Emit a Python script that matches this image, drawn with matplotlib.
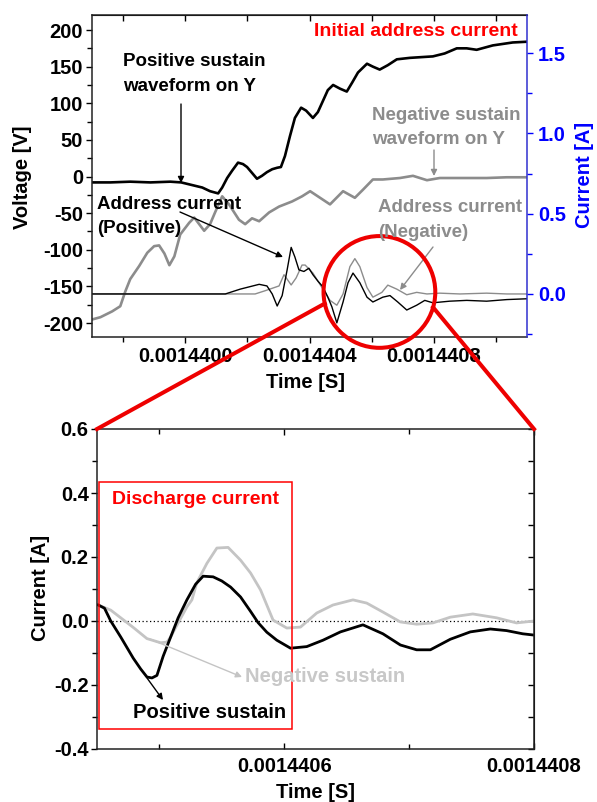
import matplotlib
matplotlib.use('Agg')
import matplotlib.pyplot as plt
from matplotlib.patches import Ellipse, Rectangle, FancyArrowPatch
from matplotlib.lines import Line2D
from matplotlib.ticker import MultipleLocator, FixedLocator, FuncFormatter
import math

plt.rcParams['font.family'] = ['Liberation Sans', 'DejaVu Sans']
plt.rcParams['font.weight'] = 'bold'
plt.rcParams['axes.unicode_minus'] = False

# ---------------- data (time in ns) ----------------
# Top panel: sustain voltages [V]
t_vpos = [1439701, 1439759, 1439823, 1439888, 1439952, 1439987, 1440055, 1440080, 1440106, 1440119,
          1440135, 1440151, 1440170, 1440186, 1440199, 1440215, 1440231, 1440247, 1440263, 1440280,
          1440296, 1440308, 1440321, 1440337, 1440353, 1440373, 1440389, 1440411, 1440427, 1440443,
          1440459, 1440476, 1440498, 1440520, 1440537, 1440556, 1440585, 1440604, 1440626, 1440652,
          1440681, 1440723, 1440797, 1440835, 1440874, 1440906, 1440938, 1440990, 1441054, 1441099]
v_pos = [-8, -8, -7, -8, -7, -8, -15, -20, -23, -15,
         -2, 8, 19, 17, 13, 5, -3, 1, 6, 10,
         12, 13, 28, 55, 80, 94, 90, 80, 88, 103,
         118, 125, 120, 116, 128, 142, 154, 150, 146, 152,
         160, 162, 164, 168, 175, 175, 173, 179, 183, 184]

t_vneg = [1439701, 1439727, 1439765, 1439791, 1439807, 1439823, 1439852, 1439878, 1439900, 1439916,
          1439933, 1439949, 1439965, 1439984, 1440013, 1440029, 1440045, 1440061, 1440080, 1440096,
          1440119, 1440141, 1440173, 1440193, 1440215, 1440238, 1440270, 1440302, 1440344, 1440376,
          1440402, 1440434, 1440466, 1440508, 1440546, 1440572, 1440604, 1440636, 1440691, 1440733,
          1440778, 1440819, 1440884, 1440970, 1441035, 1441099]
v_neg = [-195, -192, -184, -177, -157, -140, -122, -104, -95, -94,
         -105, -121, -109, -79, -63, -56, -65, -74, -65, -49,
         -27, -38, -59, -65, -57, -61, -49, -41, -34, -27,
         -20, -29, -38, -20, -29, -18, -4, -4, -2, 1,
         -5, -2, -2, -2, -1, -1]

# Top panel: address currents [A]
t_ipos = [1439701, 1439888, 1440048, 1440129, 1440177, 1440238, 1440263, 1440280, 1440296, 1440312,
          1440328, 1440341, 1440353, 1440366, 1440382, 1440398, 1440411, 1440427, 1440443, 1440459,
          1440472, 1440488, 1440508, 1440524, 1440540, 1440562, 1440585, 1440604, 1440636, 1440659,
          1440684, 1440713, 1440745, 1440771, 1440797, 1440851, 1440906, 1440970, 1441035, 1441099]
i_pos = [0, 0, 0, 0, 0.03, 0.06, 0.05, 0.0, -0.075, -0.01,
         0.15, 0.29, 0.23, 0.15, 0.14, 0.16, 0.12, 0.08, 0.045, -0.02,
         -0.08, -0.18, -0.05, 0.07, 0.13, 0.07, -0.02, -0.05, -0.02, -0.01,
         -0.05, -0.10, -0.07, -0.04, -0.055, -0.045, -0.04, -0.045, -0.035, -0.03]

t_ineg = [1439701, 1440225, 1440257, 1440302, 1440318, 1440341, 1440357, 1440376, 1440386, 1440411,
          1440440, 1440466, 1440488, 1440508, 1440530, 1440546, 1440562, 1440585, 1440604, 1440633,
          1440652, 1440681, 1440713, 1440745, 1440778, 1440819, 1440884, 1440970, 1441035, 1441099]
i_neg = [0, 0, 0.02, 0.05, 0.12, 0.056, 0.1, 0.18, 0.18, 0.13,
         0.04, -0.04, -0.07, 0.0, 0.17, 0.22, 0.17, 0.04, -0.02, 0.01,
         0.055, 0.03, -0.005, 0.01, 0.0, 0.005, 0.0, 0.005, 0.0, 0.0]

# Bottom panel: discharge currents [A]
t_dpos = [1440451, 1440456, 1440461, 1440469, 1440479, 1440485, 1440490, 1440494, 1440498, 1440503,
          1440510, 1440515, 1440522, 1440529, 1440535, 1440543, 1440550, 1440557, 1440565, 1440573,
          1440579, 1440586, 1440594, 1440605, 1440618, 1440631, 1440645, 1440663, 1440679, 1440693,
          1440706, 1440717, 1440733, 1440749, 1440765, 1440778, 1440791, 1440800]
d_pos = [0.05, 0.04, 0.0, -0.05, -0.116, -0.15, -0.175, -0.178, -0.17, -0.11,
         -0.04, 0.01, 0.066, 0.115, 0.14, 0.138, 0.125, 0.106, 0.075, 0.03,
         -0.005, -0.035, -0.06, -0.085, -0.08, -0.06, -0.034, -0.012, -0.04, -0.075,
         -0.09, -0.09, -0.057, -0.034, -0.025, -0.03, -0.04, -0.044]

t_dneg = [1440451, 1440461, 1440469, 1440479, 1440490, 1440501, 1440506, 1440509, 1440515, 1440522,
          1440526, 1440530, 1440538, 1440546, 1440555, 1440565, 1440573, 1440581, 1440591, 1440602,
          1440613, 1440626, 1440639, 1440655, 1440666, 1440679, 1440693, 1440706, 1440719, 1440733,
          1440751, 1440770, 1440786, 1440800]
d_neg = [0.05, 0.034, 0.01, -0.02, -0.055, -0.068, -0.066, -0.05, -0.006, 0.044,
         0.066, 0.12, 0.18, 0.228, 0.23, 0.19, 0.15, 0.097, 0.003, -0.022,
         -0.019, 0.025, 0.05, 0.066, 0.056, 0.028, -0.003, -0.01, -0.006, 0.012,
         0.022, 0.01, -0.006, 0.0]

top_xticks = [1.4400e-3, 1.4404e-3, 1.4408e-3]
top_xminor = [1.4398e-3, 1.4402e-3, 1.4406e-3, 1.4410e-3]
bot_xticks = [1.4406e-3, 1.4408e-3]
bot_xminor = [1.4405e-3, 1.4407e-3]

NS = 1e-9
def sec(lst):
    return [v * NS for v in lst]

BLACK = '#000000'
GRAY = '#8c8c8c'
LIGHT = '#c4c4c4'
BLUE = '#0000ff'
RED = '#ff0000'

W, H = 597, 802
fig = plt.figure(figsize=(W / 100, H / 100), dpi=100)

def fx(px):
    return px / W

def fy(py):
    return 1 - py / H

def T(px, py, s, **kw):
    fig.text(fx(px), fy(py), s, **kw)

def arrow(x0, y0, x1, y1, color, lw=1.0):
    fig.add_artist(FancyArrowPatch((fx(x0), fy(y0)), (fx(x1), fy(y1)),
                                   transform=fig.transFigure, arrowstyle='-|>',
                                   mutation_scale=9, color=color, lw=lw,
                                   shrinkA=0, shrinkB=0))

xfmt = FuncFormatter(lambda v, p: f'{v:.7f}')
TS = 14.5
LS = 1.55

# ---------------- top panel ----------------
ax = fig.add_axes([fx(92), fy(337), fx(527) - fx(92), fy(15) - fy(337)])
ax2 = ax.twinx()

ax.plot(sec(t_vpos), v_pos, color=BLACK, lw=1.9)
ax.plot(sec(t_vneg), v_neg, color=GRAY, lw=1.9)
ax2.plot(sec(t_ineg), i_neg, color=GRAY, lw=1.0)
ax2.plot(sec(t_ipos), i_pos, color=BLACK, lw=1.0)

ax.set_xlim(1439700 * NS, 1441100 * NS)
ax.set_ylim(-219, 220.5)
ax2.set_ylim(-0.268, 1.737)

ax.xaxis.set_major_locator(FixedLocator(top_xticks))
ax.xaxis.set_minor_locator(FixedLocator(top_xminor))
ax.xaxis.set_major_formatter(xfmt)
ax.yaxis.set_major_locator(MultipleLocator(50))
ax.yaxis.set_minor_locator(MultipleLocator(25))
ax.tick_params(axis='both', which='major', direction='out', length=4.5, width=1, labelsize=TS)
ax.tick_params(axis='both', which='minor', direction='out', length=3.5, width=1)
ax.tick_params(axis='x', which='major', pad=3)
ax.tick_params(axis='y', which='major', pad=2)
ax.spines['right'].set_visible(False)
for s in ['left', 'top', 'bottom']:
    ax.spines[s].set_linewidth(1.1)
    ax.spines[s].set_color('#222222')

secx = ax.secondary_xaxis('top')
secx.xaxis.set_major_locator(FixedLocator(top_xticks))
secx.xaxis.set_minor_locator(FixedLocator(top_xminor))
secx.tick_params(which='both', direction='in', labeltop=False, length=4, width=1)

ax2.yaxis.set_major_locator(MultipleLocator(0.5))
ax2.yaxis.set_minor_locator(MultipleLocator(0.25))
ax2.yaxis.set_major_formatter(FuncFormatter(lambda v, p: f'{v:.1f}'))
ax2.tick_params(axis='y', which='both', direction='out', colors=BLUE, labelsize=TS, pad=3.5,
                width=1)
ax2.tick_params(axis='y', which='major', length=4.5)
ax2.tick_params(axis='y', which='minor', length=3.5)
ax2.spines['right'].set_color('#3030d0')
ax2.spines['right'].set_linewidth(1.1)
for s in ['left', 'top', 'bottom']:
    ax2.spines[s].set_visible(False)

T(23, 177, 'Voltage [V]', rotation=90, ha='center', va='center', fontsize=TS)
T(585, 175, 'Current [A]', rotation=90, ha='center', va='center', fontsize=TS, color=BLUE)
T(305, 383, 'Time [S]', ha='center', va='center', fontsize=TS)

T(518, 32, 'Initial address current', ha='right', va='center', fontsize=14, color=RED)
T(123, 74, 'Positive sustain\nwaveform on Y', ha='left', va='center', fontsize=13.5,
  linespacing=LS)
T(372, 127.5, 'Negative sustain\nwaveform on Y', ha='left', va='center', fontsize=13.5,
  linespacing=LS, color=GRAY)
T(97, 216.5, 'Address current\n(Positive)', ha='left', va='center', fontsize=13.5,
  linespacing=LS)
T(378, 220, 'Address current\n(Negative)', ha='left', va='center', fontsize=13.5,
  linespacing=LS, color=GRAY)

arrow(181, 104, 181, 183, BLACK)
arrow(434, 150, 434, 176, GRAY)
arrow(180, 212, 283, 257, BLACK)
arrow(433, 247, 400, 290, GRAY)

# ---------------- bottom panel ----------------
axb = fig.add_axes([fx(97), fy(749), fx(534) - fx(97), fy(429) - fy(749)])
axb.axhline(0, color=BLACK, lw=0.9, ls=(0, (1, 2)))
axb.plot(sec(t_dneg), d_neg, color=LIGHT, lw=2.0)
axb.plot(sec(t_dpos), d_pos, color=BLACK, lw=2.0)
axb.set_xlim(1440450 * NS, 1440800 * NS)
axb.set_ylim(-0.4, 0.6)

axb.xaxis.set_major_locator(FixedLocator(bot_xticks))
axb.xaxis.set_minor_locator(FixedLocator(bot_xminor))
axb.xaxis.set_major_formatter(xfmt)
axb.yaxis.set_major_locator(MultipleLocator(0.2))
axb.yaxis.set_minor_locator(MultipleLocator(0.1))
axb.yaxis.set_major_formatter(FuncFormatter(lambda v, p: f'{v:.1f}'))
axb.tick_params(axis='x', which='both', direction='in', top=True, width=1, labelsize=TS, pad=6)
axb.tick_params(axis='x', which='major', length=4.5)
axb.tick_params(axis='x', which='minor', length=3.5)
axb.tick_params(axis='y', which='both', direction='out', width=1, labelsize=TS, pad=1.5)
axb.tick_params(axis='y', which='major', length=4.5)
axb.tick_params(axis='y', which='minor', length=3.5)
for s in axb.spines.values():
    s.set_linewidth(1.1)
    s.set_color('#222222')
secy = axb.secondary_yaxis('right')
secy.yaxis.set_major_locator(MultipleLocator(0.1))
secy.tick_params(which='both', direction='in', labelright=False, length=4.5, width=1)

# discharge-current box
axb.add_patch(Rectangle((1440452 * NS, -0.3375), 154.4 * NS, 0.7715, fill=False,
                        ec=RED, lw=1.1, zorder=5))

T(40, 588, 'Current [A]', rotation=90, ha='center', va='center', fontsize=TS)
T(316, 792, 'Time [S]', ha='center', va='center', fontsize=TS)
T(112, 499, 'Discharge current', ha='left', va='center', fontsize=14, color=RED)
T(133, 713, 'Positive sustain', ha='left', va='center', fontsize=14.5)
T(245, 677, 'Negative sustain', ha='left', va='center', fontsize=14.5, color='#c8c8c8')
arrow(147, 678, 163, 700, BLACK)
arrow(150, 639, 242, 677, LIGHT)

# ---------------- zoom circle + connectors ----------------
x0d, x1d = axb.get_xlim()
p0 = ax.transData.transform((x0d, 0))
p1 = ax.transData.transform((x1d, 0))
cy_disp = ax2.transData.transform((x0d, 0.0125))[1]
cx = (p0[0] + p1[0]) / 2
r = (p1[0] - p0[0]) / 2 + 1.5
fig.add_artist(Ellipse((cx / W, cy_disp / H), 2 * r / W, 2 * r / H,
                       transform=fig.transFigure, fill=False, ec='#ee0000', lw=2.9))
pl = (cx + r * math.cos(math.radians(192)), cy_disp + r * math.sin(math.radians(192)))
pr = (cx + r * math.cos(math.radians(-16)), cy_disp + r * math.sin(math.radians(-16)))
bl = axb.transAxes.transform((0, 1))
br = axb.transAxes.transform((1, 1))
fig.add_artist(Line2D([bl[0] / W, pl[0] / W], [bl[1] / H, pl[1] / H],
                      transform=fig.transFigure, color='#ee0000', lw=2.9))
fig.add_artist(Line2D([pr[0] / W, br[0] / W], [pr[1] / H, br[1] / H],
                      transform=fig.transFigure, color='#ee0000', lw=2.9))

fig.savefig('out.png', dpi=100)
